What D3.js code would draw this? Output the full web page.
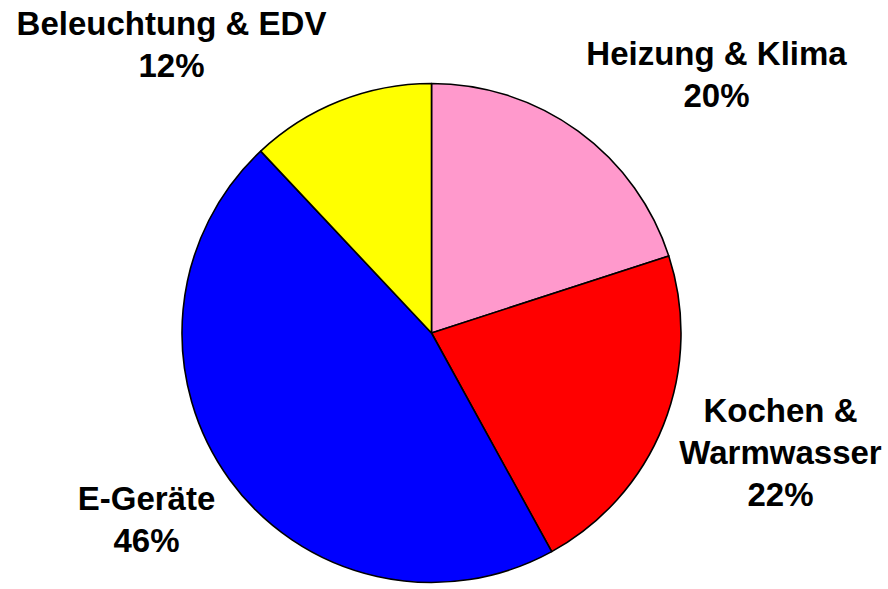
<!DOCTYPE html>
<html>
<head>
<meta charset="utf-8">
<script src="https://cdn.jsdelivr.net/npm/d3@7"></script>
<style>
  html, body { margin: 0; padding: 0; background: #fff; }
  svg { display: block; }
  text { font-family: "Liberation Sans", Arial, sans-serif; font-weight: bold; fill: #000; }
</style>
</head>
<body>
<svg id="chart" width="888" height="589"></svg>
<script>
'use strict'

// data, clockwise from 12 o'clock
const categories = [['Heizung & Klima'], ['Kochen &', 'Warmwasser'], ['E-Geräte'], ['Beleuchtung & EDV']]
const values = [20, 22, 46, 12]
const colors = ['#FF99CC', '#FF0000', '#0000FF', '#FFFF00']

// label placement relative to the pie centre (first line baseline)
const labelOffsets = [[285, -268], [349, 89], [-285, 177], [-260, -298]]

const width = 888
const height = 589
const cx = 431.5
const cy = 333
const radius = 249.5
const fontSize = 33
const lineHeight = 42

const svg = d3.select('#chart')
const g = svg.append('g').attr('transform', `translate(${cx},${cy})`)

const pie = d3.pie().sort(null).value(d => d)
const arc = d3.arc().innerRadius(0).outerRadius(radius)
const arcs = pie(values)

g.selectAll('path.slice')
  .data(arcs)
  .join('path')
  .attr('class', 'slice')
  .attr('d', arc)
  .attr('fill', (d, i) => colors[i])
  .attr('stroke', '#000')
  .attr('stroke-width', 1.6)
  .attr('stroke-linejoin', 'round')

const labels = g.selectAll('text.label')
  .data(arcs)
  .join('text')
  .attr('class', 'label')
  .attr('text-anchor', 'middle')
  .style('font-size', fontSize + 'px')
  .attr('transform', (d, i) => `translate(${labelOffsets[i][0]},${labelOffsets[i][1]})`)

labels.each(function (d, i) {
  const lines = categories[i].concat([values[i] + '%'])
  d3.select(this).selectAll('tspan')
    .data(lines)
    .join('tspan')
    .attr('x', 0)
    .attr('y', (l, j) => j * lineHeight)
    .text(l => l)
})
</script>
</body>
</html>
